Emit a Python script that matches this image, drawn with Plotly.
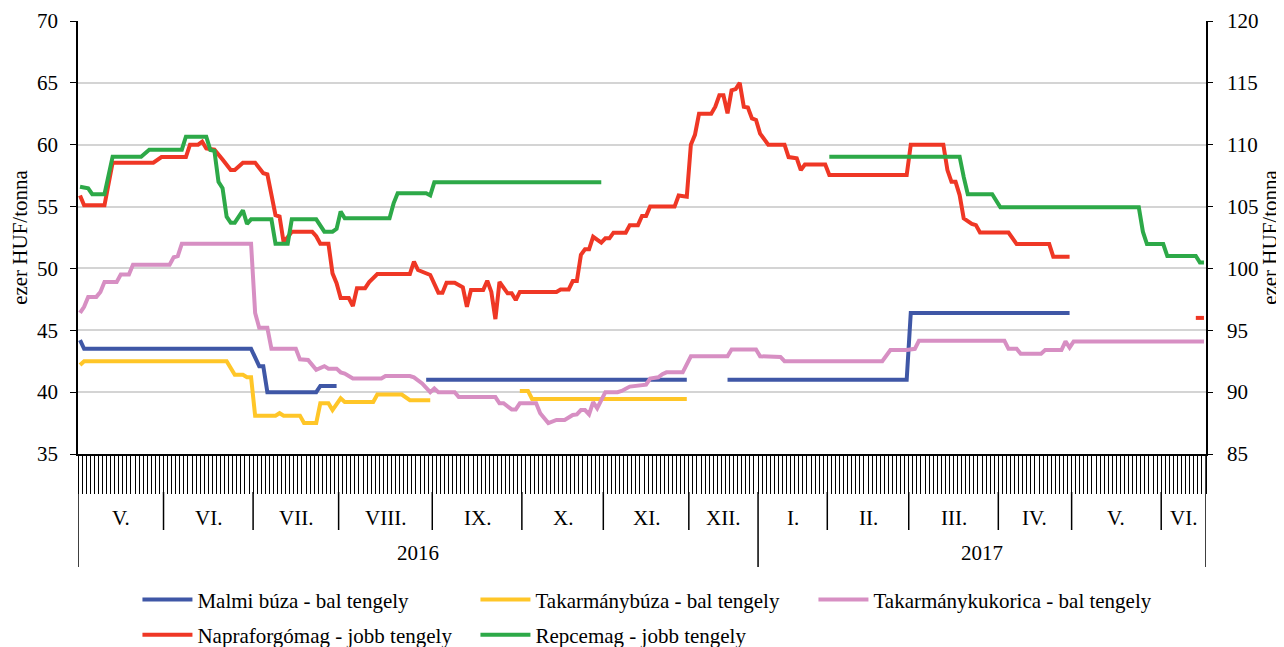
import plotly.graph_objects as go

# ---------------- data ----------------
# x = trading-day index (0 = first day of V. 2016)
MONTH_LABELS = ["V.", "VI.", "VII.", "VIII.", "IX.", "X.", "XI.", "XII.",
                "I.", "II.", "III.", "IV.", "V.", "VI."]
MONTH_DAYS = [21, 22, 21, 23, 22, 20, 21, 17, 17, 20, 22, 18, 22, 11]
YEAR_LABELS = ["2016", "2017"]
YEAR_MONTHS = [8, 6]

# Malmi búza (bal tengely)
malmi_x = [0, 1, 42, 44, 45, 46, 58, 59, 63, None, 85, 149, None, 159, 203, 204, 243]
malmi_y = [44.2, 43.5, 43.5, 42.1, 42.1, 40.0, 40.0, 40.5, 40.5, None, 41.0, 41.0, None, 41.0, 41.0, 46.4, 46.4]

# Takarmánybúza (bal tengely)
tbuza_x = [0, 1, 36, 38, 40, 41, 42, 43, 48, 49, 50, 54, 55, 58, 59, 61, 62, 64, 65, 72, 73, 79, 81, 86,
           None, 108, 110, 111, 149]
tbuza_y = [42.2, 42.5, 42.5, 41.4, 41.4, 41.2, 41.2, 38.1, 38.1, 38.3, 38.1, 38.1, 37.5, 37.5, 39.1, 39.1,
           38.55, 39.5, 39.2, 39.2, 39.8, 39.8, 39.35, 39.35, None, 40.1, 40.1, 39.45, 39.45]

# Takarmánykukorica (bal tengely)
kukorica_x = [0, 1, 2, 4, 5, 6, 9, 10, 12, 13, 22, 23, 24, 25, 42, 43, 44, 46, 47, 53,
              54, 56, 58, 60, 61, 63, 64, 65, 67, 74, 75, 81, 82, 84, 86, 87, 88, 92, 93, 102,
              103, 104, 106, 107, 108, 112, 113, 115, 117, 119, 121, 122, 123, 124, 125, 126, 127, 129, 132, 133,
              135, 136, 139, 140, 142, 143, 144, 148, 150, 159, 160, 166, 167, 172, 173, 197, 199, 203, 205, 206,
              227, 228, 230, 231, 236, 237, 241, 242, 243, 244, 276]
kukorica_y = [46.4, 46.9, 47.7, 47.7, 48.1, 48.9, 48.9, 49.5, 49.5, 50.3, 50.3, 50.9, 51.0, 52.0, 52.0, 46.4, 45.2, 45.2, 43.5, 43.5,
              42.65, 42.6, 41.8, 42.1, 41.9, 41.9, 41.6, 41.5, 41.1, 41.1, 41.3, 41.3, 41.2, 40.7, 40.0, 40.3, 40.0, 40.0, 39.6, 39.6,
              39.1, 39.1, 38.6, 38.6, 39.1, 39.1, 38.3, 37.5, 37.75, 37.75, 38.15, 38.2, 38.55, 38.55, 38.2, 39.2, 38.7, 40.0, 40.0, 40.1,
              40.45, 40.5, 40.6, 41.1, 41.2, 41.45, 41.6, 41.6, 42.9, 42.9, 43.45, 43.45, 42.9, 42.85, 42.5, 42.5, 43.4, 43.4, 43.5, 44.15,
              44.15, 43.5, 43.5, 43.1, 43.1, 43.4, 43.4, 44.1, 43.6, 44.1, 44.1]

# Napraforgómag (jobb tengely)
napra_x = [0, 1, 6, 7, 8, 18, 20, 26, 27, 29, 30, 31, 33, 35, 37, 38, 40, 43, 45, 46,
           47, 48, 49, 50, 52, 57, 58, 59, 61, 62, 63, 64, 66, 67, 68, 70, 71, 73, 81, 82,
           83, 85, 86, 88, 89, 90, 92, 94, 95, 96, 99, 100, 101, 102, 103, 105, 106, 107, 108, 117,
           118, 120, 121, 122, 123, 124, 125, 126, 128, 129, 130, 131, 134, 135, 137, 138, 139, 140, 146, 147,
           149, 150, 151, 152, 155, 156, 157, 158, 159, 160, 161, 162, 163, 164, 165, 166, 167, 169, 173, 174,
           176, 177, 178, 183, 184, 203, 204, 212, 213, 214, 215, 216, 217, 219, 220, 221, 228, 230, 238, 239,
           243, None, 274, 276]
napra_y = [105.9, 105.1, 105.1, 106.7, 108.55, 108.55, 109.0, 109.0, 110.0, 110.0, 110.25, 109.7, 109.6, 108.8, 107.95, 107.95, 108.55, 108.55, 107.7, 107.6,
           105.9, 104.3, 104.2, 102.1, 102.97, 102.97, 102.6, 102.0, 102.0, 99.6, 98.8, 97.6, 97.6, 96.96, 98.4, 98.4, 98.9, 99.55, 99.55, 100.55,
           99.87, 99.6, 99.47, 98.04, 98.04, 98.85, 98.85, 98.47, 96.9, 98.25, 98.25, 99.0, 98.1, 95.9, 98.9, 97.99, 97.99, 97.45, 98.1, 98.1,
           98.3, 98.3, 98.98, 98.98, 101.1, 101.55, 101.55, 102.56, 102.08, 102.43, 102.43, 102.89, 102.89, 103.5, 103.5, 104.24, 104.24, 105.0, 105.0, 105.9,
           105.8, 110.0, 110.8, 112.5, 112.5, 113.07, 114.0, 114.0, 112.54, 114.4, 114.5, 115.0, 113.07, 113.0, 112.13, 112.0, 110.9, 110.0, 110.0, 109.0,
           108.9, 107.95, 108.4, 108.4, 107.55, 107.55, 110.0, 110.0, 107.95, 107.0, 107.0, 105.93, 104.05, 103.6, 103.5, 102.9, 102.9, 101.97, 101.97, 100.95,
           100.95, None, 96.0, 96.0]

# Repcemag (jobb tengely)
repce_x = [0, 2, 3, 6, 8, 15, 17, 25, 26, 31, 32, 33, 34, 35, 36, 37, 38, 40, 41, 42,
           47, 48, 51, 52, 58, 60, 62, 63, 64, 65, 76, 77, 78, 85, 86, 87, 128,
           None, 184, 216, 217, 218, 224, 226, 260, 261, 262, 266, 267, 274, 275, 276]
repce_y = [106.6, 106.48, 106.0, 106.0, 109.03, 109.03, 109.6, 109.6, 110.65, 110.65, 109.57, 109.5, 107.0, 106.48, 104.18, 103.7, 103.7, 104.7, 103.6, 103.97,
           103.97, 102.0, 102.0, 103.97, 103.97, 102.97, 102.97, 103.2, 104.6, 104.05, 104.05, 105.26, 106.07, 106.07, 105.9, 106.96, 106.96,
           None, 109.03, 109.03, 107.4, 106.0, 106.0, 104.94, 104.94, 102.97, 101.97, 101.97, 101.0, 101.0, 100.47, 100.47]

SERIES = [
    ("Malmi búza - bal tengely", malmi_x, malmi_y, "#3F57A6", "y", "legend"),
    ("Takarmánybúza - bal tengely", tbuza_x, tbuza_y, "#FFC628", "y", "legend"),
    ("Takarmánykukorica - bal tengely", kukorica_x, kukorica_y, "#D78FC3", "y", "legend"),
    ("Napraforgómag - jobb tengely", napra_x, napra_y, "#EF3725", "y2", "legend2"),
    ("Repcemag - jobb tengely", repce_x, repce_y, "#2DA948", "y2", "legend2"),
]

for name, xs, ys, *_ in SERIES:
    assert len(xs) == len(ys), (name, len(xs), len(ys))

FONT = "'Liberation Serif', 'Times New Roman', Times, serif"
N_DAYS = sum(MONTH_DAYS)

fig = go.Figure()
for name, xs, ys, color, yax, leg in SERIES:
    fig.add_trace(go.Scatter(
        x=xs, y=ys, name=name, mode="lines", yaxis=yax, legend=leg,
        line=dict(color=color, width=4), connectgaps=False,
        hoverinfo="x+y+name",
    ))

# month / year separators and labels
shapes = []
annotations = []
edges = [0]
for d in MONTH_DAYS:
    edges.append(edges[-1] + d)

year_edges = [0]
for m in YEAR_MONTHS:
    year_edges.append(year_edges[-1] + m)
year_day_edges = [edges[i] for i in year_edges]

for i, lab in enumerate(MONTH_LABELS):
    annotations.append(dict(x=(edges[i] + edges[i + 1]) / 2 - 0.5, xref="x", y=0, yref="paper",
                            yshift=-64, text=lab, showarrow=False, yanchor="middle",
                            font=dict(family=FONT, size=21, color="black")))
for j, lab in enumerate(YEAR_LABELS):
    annotations.append(dict(x=(year_day_edges[j] + year_day_edges[j + 1]) / 2 - 0.5, xref="x", y=0,
                            yref="paper", yshift=-99, text=lab, showarrow=False, yanchor="middle",
                            font=dict(family=FONT, size=21, color="black")))

for e in edges:
    if e in year_day_edges:
        y0, y1 = (0, -113) if e in (0, N_DAYS) else (-38, -113)
    else:
        y0, y1 = -38, -76
    shapes.append(dict(type="line", xref="x", yref="paper", ysizemode="pixel", yanchor=0,
                       x0=e - 0.5, x1=e - 0.5, y0=y0, y1=y1,
                       line=dict(color="black", width=1.5)))

# the page body has an 8px margin, so the margins compensate for it
fig.update_layout(
    width=1284, height=647, autosize=False,
    margin=dict(l=70, r=86, t=13, b=201, autoexpand=False),
    paper_bgcolor="white", plot_bgcolor="white",
    font=dict(family=FONT, size=21, color="black"),
    showlegend=True,
    xaxis=dict(range=[-0.5, N_DAYS - 0.5], tickmode="linear", tick0=-0.5, dtick=1,
               ticks="outside", ticklen=38, tickwidth=1.2, tickcolor="black",
               showticklabels=False, showline=True, linecolor="black", linewidth=1.5,
               showgrid=False, zeroline=False),
    yaxis=dict(range=[35, 70], tickmode="linear", tick0=35, dtick=5,
               showgrid=True, gridcolor="#d4d4d4", gridwidth=1.5,
               showline=True, linecolor="black", linewidth=1.5,
               ticks="outside", ticklen=6, tickcolor="black", zeroline=False,
               ticklabelstandoff=8,
               tickfont=dict(family=FONT, size=21),
               title=dict(text="ezer HUF/tonna", font=dict(family=FONT, size=21), standoff=9)),
    yaxis2=dict(range=[85, 120], tickmode="linear", tick0=85, dtick=5, overlaying="y", side="right",
                showgrid=False, showline=True, linecolor="black", linewidth=1.5,
                ticks="outside", ticklen=5, tickcolor="black", zeroline=False,
                ticklabelstandoff=10,
                tickfont=dict(family=FONT, size=21),
                title=dict(text="ezer HUF/tonna", font=dict(family=FONT, size=21), standoff=3)),
    legend=dict(orientation="h", x=0.0527, xanchor="left", y=-0.337, yanchor="middle",
                entrywidthmode="pixels", entrywidth=273, itemwidth=50,
                font=dict(family=FONT, size=21), bgcolor="rgba(0,0,0,0)"),
    legend2=dict(orientation="h", x=0.0527, xanchor="left", y=-0.418, yanchor="middle",
                 entrywidthmode="pixels", entrywidth=273, itemwidth=50,
                 font=dict(family=FONT, size=21), bgcolor="rgba(0,0,0,0)"),
    shapes=shapes, annotations=annotations,
)

fig.write_html("out.html")
